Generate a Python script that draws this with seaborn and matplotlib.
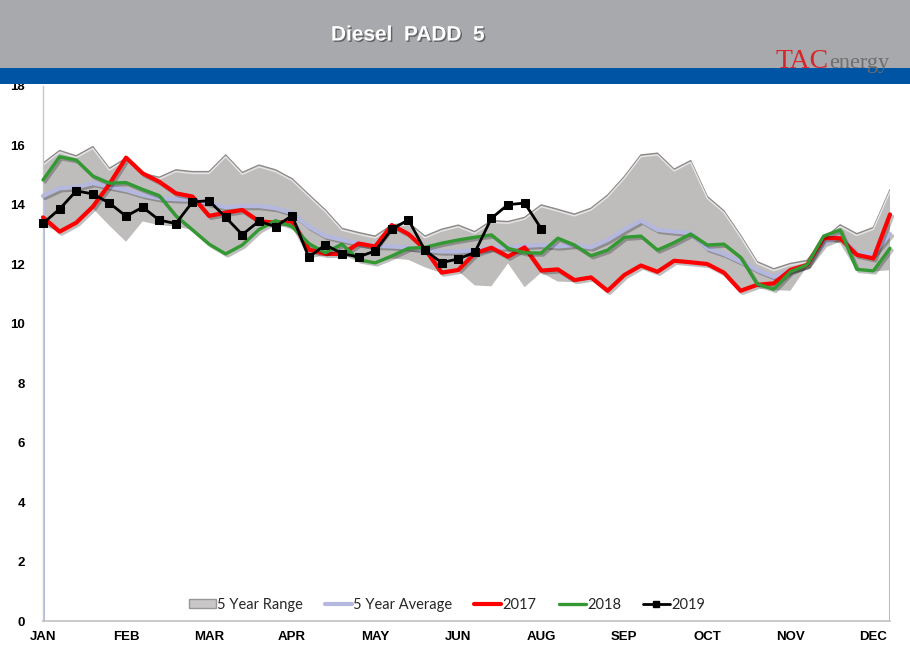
import numpy as np
import pandas as pd
import matplotlib
matplotlib.use("Agg")
import matplotlib.pyplot as plt
import seaborn as sns
from matplotlib.patches import Rectangle, Patch
from matplotlib.lines import Line2D
import matplotlib.patheffects as pe

# ---------------- data ----------------
month_labels = ["JAN", "FEB", "MAR", "APR", "MAY", "JUN", "AUG", "SEP", "OCT", "NOV", "DEC"]

range_high = [15.40, 15.83, 15.65, 15.96, 15.23, 15.57, 15.06, 14.93, 15.18, 15.12,
              15.12, 15.68, 15.09, 15.34, 15.18, 14.88, 14.35, 13.83, 13.21, 13.07,
              12.95, 13.32, 13.40, 12.95, 13.18, 13.32, 13.10, 13.47, 13.44, 13.58,
              14.00, 13.85, 13.69, 13.89, 14.33, 14.95, 15.68, 15.74, 15.20, 15.49,
              14.28, 13.80, 12.98, 12.09, 11.85, 12.03, 12.13, 12.85, 13.33, 13.03,
              13.24, 14.51]
range_low = [13.30, 13.10, 13.40, 13.88, 13.30, 12.76, 13.44, 13.32, 13.27, 13.16,
             12.68, 12.35, 12.65, 13.17, 13.35, 13.26, 12.20, 12.30, 12.30, 12.10,
             12.04, 12.20, 12.15, 11.90, 11.70, 11.78, 11.29, 11.26, 12.03, 11.23,
             11.72, 11.42, 11.40, 11.50, 11.10, 11.62, 11.94, 11.73, 12.10, 12.05,
             12.00, 11.70, 11.10, 11.28, 11.13, 11.11, 11.92, 12.85, 12.70, 11.80,
             11.76, 11.80]
avg_5yr = [14.30, 14.56, 14.59, 14.73, 14.61, 14.50, 14.33, 14.22, 14.19, 14.17,
           14.05, 13.92, 13.96, 13.96, 13.89, 13.72, 13.27, 12.95, 12.82, 12.71,
           12.62, 12.60, 12.57, 12.48, 12.43, 12.43, 12.48, 12.55, 12.57, 12.62,
           12.65, 12.60, 12.65, 12.57, 12.82, 13.16, 13.47, 13.16, 13.10, 13.05,
           12.54, 12.35, 12.09, 11.81, 11.58, 11.81, 11.98, 12.71, 12.93, 12.37,
           12.35, 13.02]
y2017 = [13.58, 13.10, 13.40, 13.94, 14.70, 15.59, 15.06, 14.78, 14.39, 14.28,
         13.63, 13.74, 13.83, 13.45, 13.40, 13.45, 12.50, 12.35, 12.35, 12.70,
         12.60, 13.32, 13.02, 12.51, 11.72, 11.81, 12.37, 12.56, 12.26, 12.57,
         11.79, 11.83, 11.47, 11.56, 11.11, 11.64, 11.96, 11.75, 12.12, 12.07,
         12.01, 11.72, 11.11, 11.31, 11.36, 11.81, 11.98, 12.88, 12.88, 12.32,
         12.20, 13.68]
y2018 = [14.84, 15.62, 15.51, 14.97, 14.73, 14.75, 14.52, 14.31, 13.63, 13.16,
         12.68, 12.35, 12.65, 13.17, 13.47, 13.27, 12.70, 12.39, 12.68, 12.15,
         12.05, 12.28, 12.54, 12.57, 12.71, 12.82, 12.91, 12.99, 12.54, 12.39,
         12.38, 12.88, 12.65, 12.29, 12.48, 12.91, 12.95, 12.48, 12.73, 13.02,
         12.65, 12.68, 12.24, 11.34, 11.16, 11.75, 11.98, 12.95, 13.16, 11.83,
         11.78, 12.54]
y2019 = [13.38, 13.86, 14.47, 14.37, 14.06, 13.62, 13.92, 13.49, 13.37, 14.10,
         14.14, 13.58, 13.00, 13.45, 13.27, 13.64, 12.24, 12.66, 12.36, 12.25,
         12.45, 13.18, 13.50, 12.47, 12.06, 12.18, 12.40, 13.55, 14.01, 14.06,
         13.20]
y_ticks = [0, 2, 4, 6, 8, 10, 12, 14, 16, 18]

weeks = np.arange(len(avg_5yr))
df = pd.DataFrame({"week": weeks, "high": range_high, "low": range_low,
                   "avg": avg_5yr, "y2017": y2017, "y2018": y2018})
df19 = pd.DataFrame({"week": np.arange(len(y2019)), "y2019": y2019})

# ---------------- style ----------------
sns.set_style("white")
plt.rcParams["font.family"] = ["Liberation Sans", "DejaVu Sans"]

C_RANGE = "#bfbcbc"
C_AVG = "#b4b7de"
C_2017 = "#ff0000"
C_2018 = "#339933"
C_2019 = "#000000"

fig = plt.figure(figsize=(9.10, 6.59), dpi=100)

# header bands
fig.patches.append(Rectangle((0, 1 - 68 / 659), 1, 68 / 659, transform=fig.transFigure,
                             facecolor="#a8a9ad", edgecolor="none", zorder=0))
fig.patches.append(Rectangle((0, 1 - 84 / 659), 1, 16 / 659, transform=fig.transFigure,
                             facecolor="#0054a4", edgecolor="none", zorder=0))
fig.text(408 / 910, 1 - 35 / 659, "Diesel  PADD  5", color="white", fontsize=15,
         fontweight="bold", ha="center", va="center",
         path_effects=[pe.withSimplePatchShadow(offset=(1, -1), shadow_rgbFace="#444444", alpha=0.7)])
fig.text(775 / 910, 1 - 68 / 659, "TAC", color="#d7262b", fontsize=20,
         family=["Liberation Serif", "DejaVu Serif"], ha="left", va="baseline")
fig.text(829 / 910, 1 - 68 / 659, "energy", color="#6e6e6e", fontsize=16,
         family=["Liberation Serif", "DejaVu Serif"], ha="left", va="baseline")

ax = fig.add_axes([43 / 910, 38 / 659, (890 - 43) / 910, (621 - 86) / 659])
ax.set_facecolor("white")

shadow = [pe.SimpleLineShadow(offset=(1.5, -1.5), alpha=0.25), pe.Normal()]

# 5 year range
ax.fill_between(df["week"], df["low"], df["high"], color=C_RANGE, edgecolor="none", zorder=1)
ax.plot(df["week"], df["high"], color="#8e8a8a", lw=1.0, zorder=1.5)
ax.plot(df["week"], df["high"] - 0.06, color="#e6e4e4", lw=1.0, zorder=1.6)

# 5 year average (with the vertical drops at both ends)
ax.vlines([weeks[0], weeks[-1]], 0, [avg_5yr[0], avg_5yr[-1]], color=C_AVG, lw=2.2, zorder=2)
sns.lineplot(data=df, x="week", y="avg", color=C_AVG, linewidth=3.0, ax=ax,
             zorder=3, path_effects=shadow, clip_on=False)
sns.lineplot(data=df, x="week", y="y2017", color=C_2017, linewidth=3.0, ax=ax,
             zorder=4, path_effects=shadow, clip_on=False)
sns.lineplot(data=df, x="week", y="y2018", color=C_2018, linewidth=2.4, ax=ax,
             zorder=5, path_effects=shadow, clip_on=False)
sns.lineplot(data=df19, x="week", y="y2019", color=C_2019, linewidth=2.0, marker="s",
             markersize=6.0, markeredgecolor="black", ax=ax, zorder=6, clip_on=False)

ax.set_xlim(0, len(weeks) - 1)
ax.set_ylim(0, 18)
ax.set_xticks(np.arange(0, 5 * len(month_labels), 5))
ax.set_xticklabels(month_labels)
ax.set_yticks(y_ticks)
ax.set_yticklabels([str(v) for v in y_ticks])
ax.tick_params(axis="both", length=0, labelsize=9.5, colors="#000000")
ax.tick_params(axis="y", pad=13)
ax.tick_params(axis="x", pad=7)
for lab in ax.get_xticklabels() + ax.get_yticklabels():
    lab.set_fontweight("bold")
ax.set_xlabel("")
ax.set_ylabel("")
for s in ["top", "right"]:
    ax.spines[s].set_visible(False)
ax.spines["left"].set_color("#c8c8c8")
ax.spines["bottom"].set_color("#c0c0c0")
ax.spines["left"].set_linewidth(1.0)
ax.spines["bottom"].set_linewidth(1.2)

# legend
handles = [
    Patch(facecolor="#c9c7c7", edgecolor="#9a9696", label="5 Year Range"),
    Line2D([], [], color=C_AVG, lw=3, label="5 Year Average"),
    Line2D([], [], color=C_2017, lw=3, label="2017"),
    Line2D([], [], color=C_2018, lw=2.4, label="2018"),
    Line2D([], [], color=C_2019, lw=2, marker="s", markersize=5, label="2019"),
]
fig.legend(handles=handles, loc="center", bbox_to_anchor=(447 / 910, 1 - 605 / 659),
           ncol=5, frameon=False, handlelength=1.85, handleheight=0.6, handletextpad=0.1,
           columnspacing=1.5, prop={"family": ["Lato", "DejaVu Sans"], "size": 10.5})

fig.savefig("out.png", dpi=100, facecolor="white")
